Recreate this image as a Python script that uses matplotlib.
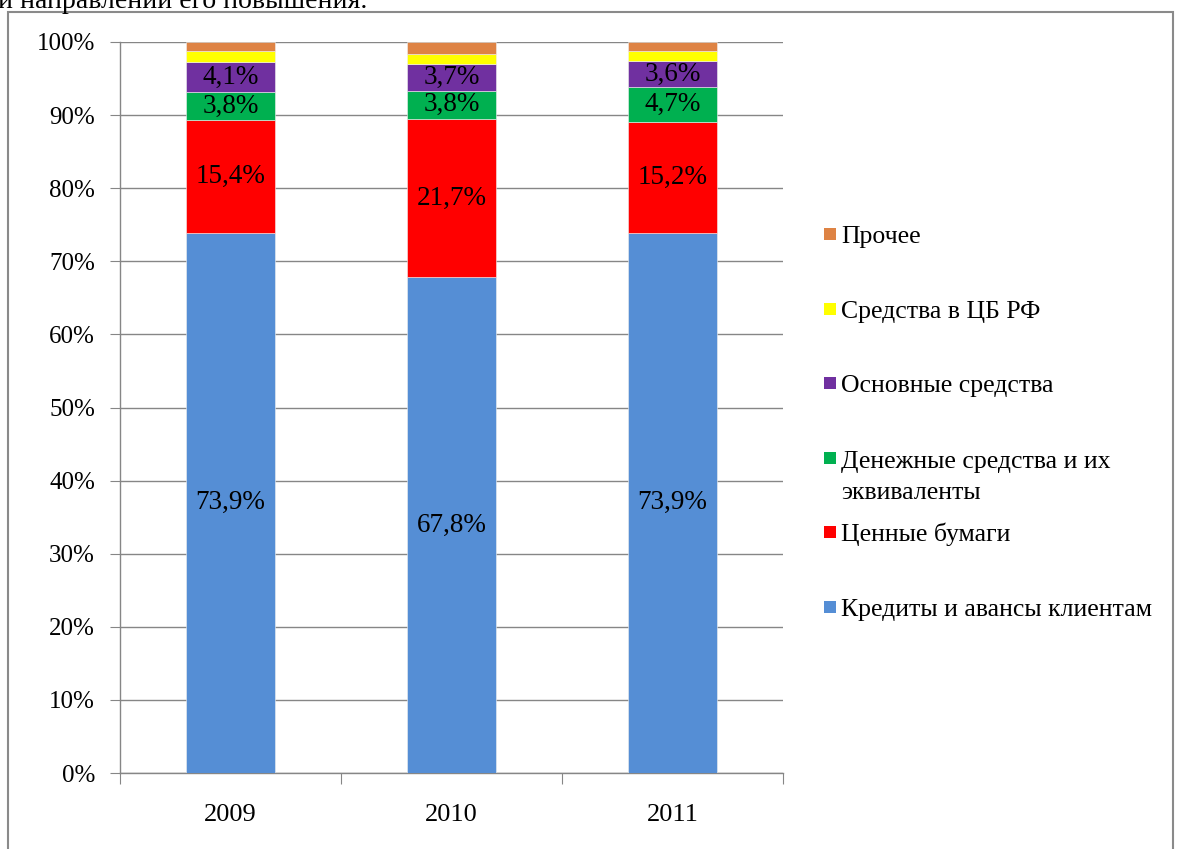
import numpy as np
import matplotlib
matplotlib.use("Agg")
import matplotlib.pyplot as plt
from matplotlib.patches import Rectangle

plt.rcParams["font.family"] = ["Liberation Serif", "DejaVu Serif"]

# ── ДАННЫЕ ────────────────────────────────────────────────────────────────────
years = ["2009", "2010", "2011"]
series = ["Кредиты и авансы клиентам", "Ценные бумаги",
          "Денежные средства и их\nэквиваленты", "Основные средства",
          "Средства в ЦБ РФ", "Прочее"]
credits    = [73.9, 67.8, 73.9]
securities = [15.4, 21.7, 15.2]
cash       = [3.8, 3.8, 4.7]
fixed      = [4.1, 3.7, 3.6]
cbr        = [1.6, 1.4, 1.4]
other      = [1.2, 1.6, 1.2]
values = [credits, securities, cash, fixed, cbr, other]
labeled = [True, True, True, True, False, False]
colors = ["#558ED5", "#FF0000", "#00B050", "#7030A0", "#FFFF00", "#DE8344"]

W, H = 1177, 849
fig = plt.figure(figsize=(W / 100, H / 100), dpi=100)
ax = fig.add_axes([120 / W, 1 - 773 / H, (783 - 120) / W, (773 - 42) / H])

grey = "#868686"
x = np.arange(len(years))
bottom = np.zeros(len(years))
for vals, col, lab in zip(values, colors, labeled):
    vals = np.array(vals)
    ax.bar(x, vals, 0.4, bottom=bottom, color=col, edgecolor="#f0f0f0",
           linewidth=0.4, zorder=3)
    if lab:
        for xi, b, v in zip(x, bottom, vals):
            ax.text(xi, b + v / 2, f"{v:.1f}%".replace(".", ","),
                    ha="center", va="center", fontsize=19.5, zorder=4)
    bottom += vals

# оси
ax.set_xlim(-0.5, 2.5)
ax.set_ylim(0, 100)
ax.set_yticks(np.arange(0, 101, 10))
ax.set_yticklabels([f"{t}%" for t in range(0, 101, 10)], fontsize=18)
ax.yaxis.grid(True, color=grey, linewidth=1, zorder=0)
ax.set_xticks([-0.5, 0.5, 1.5, 2.5])
ax.set_xticklabels([])
ax.set_xticks(x, minor=True)
ax.set_xticklabels(years, minor=True, fontsize=19)
ax.tick_params(axis="x", which="major", length=8, color=grey, direction="out")
ax.tick_params(axis="x", which="minor", length=0, pad=22)
ax.tick_params(axis="y", length=7, color=grey, direction="out", pad=11)
for s in ["top", "right"]:
    ax.spines[s].set_visible(False)
for s in ["left", "bottom"]:
    ax.spines[s].set_color(grey)
    ax.spines[s].set_linewidth(1)

# ── ЛЕГЕНДА (вручную) ─────────────────────────────────────────────────────────
y0, step, line_px = 234, 74.6, 32
for i, (name, col) in enumerate(zip(series[::-1], colors[::-1])):
    yc = y0 + i * step
    fig.patches.append(Rectangle((824 / W, 1 - (yc + 6) / H), 12 / W, 12 / H,
                                 transform=fig.transFigure, facecolor=col,
                                 edgecolor="none"))
    # baseline последней строки — сдвигаем, чтобы первая строка была у маркера
    extra = (name.count("\n")) * line_px
    fig.text(841 / W, 1 - (yc + 9 + extra) / H, name, fontsize=18.5,
             va="baseline", ha="left", linespacing=1.5)

# рамка диаграммы и обрезанный текст документа сверху
fig.patches.append(Rectangle((8 / W, -0.05), (1173 - 8) / W, 1.05 - 12 / H,
                             transform=fig.transFigure, facecolor="none",
                             edgecolor="#8a8a8a", linewidth=1.5))
fig.text(-2 / W, 1 - 8 / H, "и направлений его повышения.", fontsize=20,
         va="baseline", ha="left")

fig.savefig("out.png", dpi=100)
